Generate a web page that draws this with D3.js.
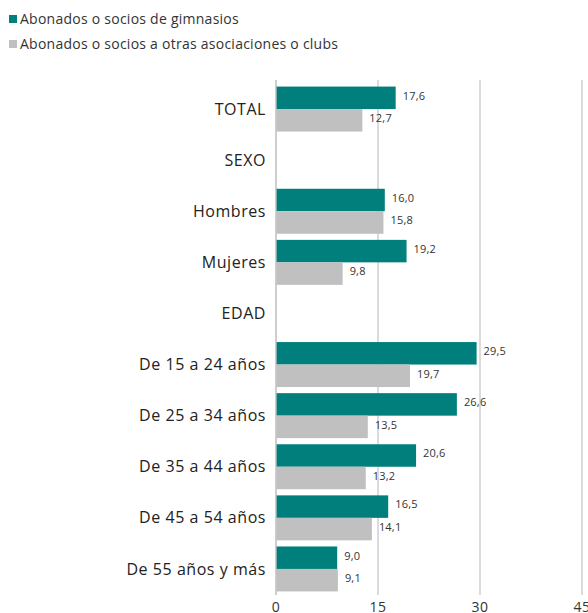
<!DOCTYPE html>
<html><head><meta charset="utf-8">
<script src="https://cdn.jsdelivr.net/npm/d3@7"></script>
<style>body{margin:0;background:#fff;} text{font-family:"Open Sans", sans-serif;}</style>
</head><body><svg id="c" width="588" height="613"></svg>
<script>
const categories = ["TOTAL","SEXO","Hombres","Mujeres","EDAD","De 15 a 24 años","De 25 a 34 años","De 35 a 44 años","De 45 a 54 años","De 55 años y más"];
const gimnasios = [17.6,null,16.0,19.2,null,29.5,26.6,20.6,16.5,9.0];
const otras = [12.7,null,15.8,9.8,null,19.7,13.5,13.2,14.1,9.1];
const seriesNames = ["Abonados o socios de gimnasios","Abonados o socios a otras asociaciones o clubs"];
const seriesColors = ["#007f7c","#c0c0c0"];
const ticks = [0,15,30,45];

const svg = d3.select("#c");
const x = d3.scaleLinear().domain([0,45]).range([276,582]);
const y = d3.scaleBand().domain(categories).range([83.5,594.5]).paddingInner(0.12).paddingOuter(0.06);
const fmt = v => d3.format(".1f")(v).replace(".",",");

// grid
svg.append("g").selectAll("line").data(ticks).join("line")
  .attr("x1",d=>x(d)).attr("x2",d=>x(d)).attr("y1",80).attr("y2",595)
  .attr("stroke","#c8c8c8").attr("stroke-width",1.3);
svg.append("g").selectAll("text").data(ticks).join("text")
  .attr("x",d=>x(d)).attr("y",612).attr("text-anchor","middle")
  .attr("font-size",14).attr("letter-spacing",0.4).attr("fill","#333").text(d=>d);

const bh = y.bandwidth()/2;
const data = categories.map((c,i)=>({c, g:gimnasios[i], o:otras[i]}));
const grp = svg.append("g");
[["g",0],["o",1]].forEach(([k,si])=>{
  const dd = data.filter(d=>d[k]!=null);
  grp.selectAll(".b"+k).data(dd).join("rect")
    .attr("x",x(0)).attr("y",d=>y(d.c)+si*bh).attr("width",d=>x(d[k])-x(0)).attr("height",bh)
    .attr("fill",seriesColors[si]);
  grp.selectAll(".t"+k).data(dd).join("text")
    .attr("x",d=>x(d[k])+7).attr("y",d=>y(d.c)+si*bh+bh/2-2).attr("dy","0.35em")
    .attr("font-size",11).attr("letter-spacing",0.2).attr("fill","#333").text(d=>fmt(d[k]));
});
// axis line
svg.append("line").attr("x1",x(0)).attr("x2",x(0)).attr("y1",80).attr("y2",595).attr("stroke","#c8c8c8").attr("stroke-width",1.3);

svg.append("g").selectAll("text").data(categories).join("text")
  .attr("x",266).attr("y",d=>y(d)+y.bandwidth()/2).attr("dy","0.35em").attr("text-anchor","end")
  .attr("font-size",16).attr("letter-spacing",0.55).attr("fill","#222").text(d=>d);

// legend
const lg = svg.append("g");
seriesNames.forEach((n,i)=>{
  lg.append("rect").attr("x",9).attr("y",15+i*25).attr("width",8).attr("height",8).attr("fill",seriesColors[i]);
  lg.append("text").attr("x",20).attr("y",19+i*25).attr("dy","0.35em").attr("font-size",14).attr("letter-spacing",0.25).attr("fill","#333").text(n);
});
</script></body></html>
